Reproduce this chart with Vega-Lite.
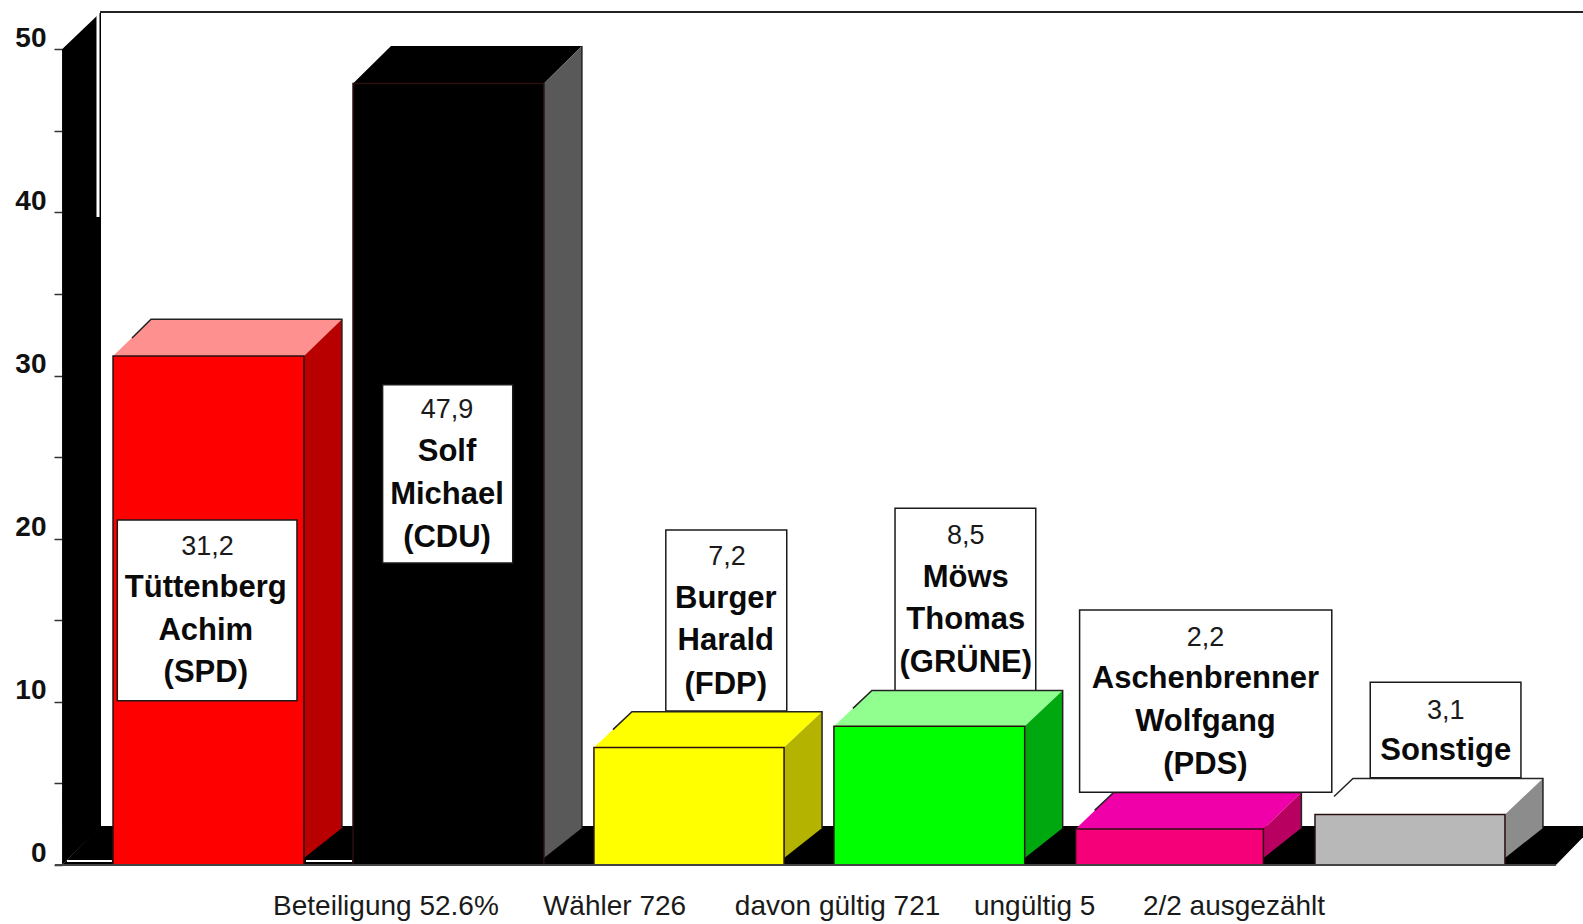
{"$schema":"https://vega.github.io/schema/vega-lite/v6.json","width":1583,"height":924,"autosize":"none","padding":0,"background":"white","config":{"view":{"stroke":null}},
"datasets":{
"wand":[{"x":3.92,"y":50,"y2":0},{"x":6.38,"y":52.29,"y2":2.39}],
"boden":[{"y":0,"x":3.92,"x2":98.29},{"y":2.39,"x":6.32,"x2":100.7}],
"dach":[
{"part":"SPD Dach","y":31.2,"x":7.14,"x2":19.2},{"part":"SPD Dach","y":33.45,"x":9.54,"x2":21.6},
{"part":"CDU Dach","y":47.9,"x":22.3,"x2":34.36},{"part":"CDU Dach","y":50.2,"x":24.7,"x2":36.76},
{"part":"FDP Dach","y":7.2,"x":37.52,"x2":49.53},{"part":"FDP Dach","y":9.4,"x":39.92,"x2":51.93},
{"part":"GRÜNE Dach","y":8.5,"x":52.68,"x2":64.73},{"part":"GRÜNE Dach","y":10.7,"x":55.08,"x2":67.13},
{"part":"PDS Dach","y":2.2,"x":67.95,"x2":79.81},{"part":"PDS Dach","y":4.45,"x":70.35,"x2":82.21},
{"part":"Sonstige Dach","y":3.1,"x":83.07,"x2":95.07},{"part":"Sonstige Dach","y":5.3,"x":85.47,"x2":97.47}],
"seite":[
{"part":"SPD Seite","x":19.2,"y":31.2,"y2":0.43},{"part":"SPD Seite","x":21.6,"y":33.45,"y2":2.27},
{"part":"CDU Seite","x":34.36,"y":47.9,"y2":0.43},{"part":"CDU Seite","x":36.76,"y":50.2,"y2":2.27},
{"part":"FDP Seite","x":49.53,"y":7.2,"y2":0.43},{"part":"FDP Seite","x":51.93,"y":9.4,"y2":2.27},
{"part":"GRÜNE Seite","x":64.73,"y":8.5,"y2":0.43},{"part":"GRÜNE Seite","x":67.13,"y":10.7,"y2":2.27},
{"part":"PDS Seite","x":79.81,"y":2.2,"y2":0.43},{"part":"PDS Seite","x":82.21,"y":4.45,"y2":2.27},
{"part":"Sonstige Seite","x":95.07,"y":3.1,"y2":0.43},{"part":"Sonstige Seite","x":97.47,"y":5.3,"y2":2.27}],
"front":[
{"part":"SPD Front","x":7.14,"x2":19.2,"y":31.2,"y2":0},
{"part":"CDU Front","x":22.3,"x2":34.36,"y":47.9,"y2":0},
{"part":"FDP Front","x":37.52,"x2":49.53,"y":7.2,"y2":0},
{"part":"GRÜNE Front","x":52.68,"x2":64.73,"y":8.5,"y2":0},
{"part":"PDS Front","x":67.95,"x2":79.81,"y":2.2,"y2":0},
{"part":"Sonstige Front","x":83.07,"x2":95.07,"y":3.1,"y2":0}],
"kanten":[
{"k":"SPD","o":1,"x":8.34,"y":32.3},{"k":"SPD","o":2,"x":9.54,"y":33.45},{"k":"SPD","o":3,"x":21.6,"y":33.45},{"k":"SPD","o":4,"x":21.6,"y":2.27},
{"k":"CDU","o":1,"x":36.76,"y":50.2},{"k":"CDU","o":2,"x":36.76,"y":2.27},
{"k":"FDP","o":1,"x":38.72,"y":8.3},{"k":"FDP","o":2,"x":39.92,"y":9.4},{"k":"FDP","o":3,"x":51.93,"y":9.4},{"k":"FDP","o":4,"x":51.93,"y":2.27},
{"k":"GRÜNE","o":1,"x":53.88,"y":9.6},{"k":"GRÜNE","o":2,"x":55.08,"y":10.7},{"k":"GRÜNE","o":3,"x":67.13,"y":10.7},{"k":"GRÜNE","o":4,"x":67.13,"y":2.27},
{"k":"PDS","o":1,"x":69.15,"y":3.35},{"k":"PDS","o":2,"x":70.35,"y":4.45},{"k":"PDS","o":3,"x":82.21,"y":4.45},{"k":"PDS","o":4,"x":82.21,"y":2.27},
{"k":"Sonstige","o":1,"x":84.27,"y":4.2},{"k":"Sonstige","o":2,"x":85.47,"y":5.3},{"k":"Sonstige","o":3,"x":97.47,"y":5.3},{"k":"Sonstige","o":4,"x":97.47,"y":2.27}],
"boxen":[
{"k":"SPD","x":7.41,"x2":18.76,"y":21.15,"y2":10.07},
{"k":"CDU","x":24.17,"x2":32.39,"y":29.44,"y2":18.51},
{"k":"FDP","x":42.06,"x2":49.7,"y":20.53,"y2":9.44},
{"k":"GRÜNE","x":56.54,"x2":65.43,"y":21.86,"y2":10.68},
{"k":"PDS","x":68.2,"x2":84.13,"y":15.63,"y2":4.46},
{"k":"Sonstige","x":86.56,"x2":96.08,"y":11.2,"y2":5.35}],
"namen":[
{"t":"Tüttenberg","x":13.0,"y":16.96},{"t":"Achim","x":13.0,"y":14.36},{"t":"(SPD)","x":13.0,"y":11.75},
{"t":"Solf","x":28.24,"y":25.3},{"t":"Michael","x":28.24,"y":22.7},{"t":"(CDU)","x":28.24,"y":20.05},
{"t":"Burger","x":45.85,"y":16.3},{"t":"Harald","x":45.85,"y":13.7},{"t":"(FDP)","x":45.85,"y":11.05},
{"t":"Möws","x":61.01,"y":17.6},{"t":"Thomas","x":61.01,"y":15.0},{"t":"(GRÜNE)","x":61.01,"y":12.36},
{"t":"Aschenbrenner","x":76.15,"y":11.4},{"t":"Wolfgang","x":76.15,"y":8.74},{"t":"(PDS)","x":76.15,"y":6.1},
{"t":"Sonstige","x":91.33,"y":7.0}],
"werte":[
{"t":"31,2","x":13.11,"y":19.51},{"t":"47,9","x":28.24,"y":27.89},{"t":"7,2","x":45.93,"y":18.86},{"t":"8,5","x":61.01,"y":20.17},{"t":"2,2","x":76.15,"y":13.9},{"t":"3,1","x":91.33,"y":9.46}],
"fuss":[
{"t":"Beteiligung 52.6%","x":24.38,"y":-2.58},{"t":"Wähler 726","x":38.82,"y":-2.58},{"t":"davon gültig 721","x":52.91,"y":-2.58},{"t":"ungültig 5","x":65.36,"y":-2.58},{"t":"2/2 ausgezählt","x":77.95,"y":-2.58}]
},
"encoding":{
"x":{"field":"x","type":"quantitative","stack":null,"scale":{"domain":[0,100],"nice":false,"zero":false},"axis":null},
"y":{"field":"y","type":"quantitative","stack":null,"scale":{"domain":[-3.617,53.02],"nice":false,"zero":false},"axis":{"title":null,"orient":"left","offset":-62,"values":[0,5,10,15,20,25,30,35,40,45,50],"labelExpr":"datum.value%10==0?datum.label:''","domain":false,"grid":false,"tickSize":8,"tickWidth":1.5,"tickColor":"#333333","labelPadding":8,"labelOffset":-11,"labelFont":"Liberation Sans","labelFontWeight":"bold","labelFontSize":28,"labelColor":"#111111","zindex":0}}
},
"layer":[
{"data":{"name":"wand"},"mark":{"type":"area","color":"black"},"encoding":{"y2":{"field":"y2"}}},
{"data":{"name":"boden"},"mark":{"type":"area","color":"black","orient":"horizontal","clip":true},"encoding":{"x2":{"field":"x2"}}},
{"data":{"values":[{"x":6.19,"y":52.2,"y2":39.72}]},"mark":{"type":"rule","color":"white","strokeWidth":3},"encoding":{"y2":{"field":"y2"}}},
{"data":{"values":[{"x":6.32,"x2":100,"y":52.29}]},"mark":{"type":"rule","color":"#222222","strokeWidth":2},"encoding":{"x2":{"field":"x2"}}},
{"data":{"name":"boxen"},"transform":[{"filter":"datum.k=='FDP'||datum.k=='GRÜNE'||datum.k=='Sonstige'"}],"mark":{"type":"rect","fill":"white","stroke":"#1a1a1a","strokeWidth":1.5},"encoding":{"x2":{"field":"x2"},"y2":{"field":"y2"}}},
{"encoding":{"color":{"field":"part","type":"nominal","legend":null,"scale":{
"domain":["SPD Front","SPD Dach","SPD Seite","CDU Front","CDU Dach","CDU Seite","FDP Front","FDP Dach","FDP Seite","GRÜNE Front","GRÜNE Dach","GRÜNE Seite","PDS Front","PDS Dach","PDS Seite","Sonstige Front","Sonstige Dach","Sonstige Seite"],
"range":["#ff0000","#ff9090","#b80000","#000000","#000000","#595959","#ffff00","#ffff00","#b4b400","#00ff00","#90ff90","#00a810","#f50078","#f000a8","#b80060","#b8b8b8","#ffffff","#8c8c8c"]}}},
"layer":[
{"data":{"name":"dach"},"mark":{"type":"area","orient":"horizontal"},"encoding":{"x2":{"field":"x2"}}},
{"data":{"name":"seite"},"mark":{"type":"area","orient":"vertical"},"encoding":{"y2":{"field":"y2"}}},
{"data":{"name":"front"},"mark":{"type":"rect","stroke":"#2a1010","strokeWidth":1.5},"encoding":{"x2":{"field":"x2"},"y2":{"field":"y2"}}}
]},
{"data":{"name":"kanten"},"mark":{"type":"line","color":"#222222","strokeWidth":1.5},"encoding":{"detail":{"field":"k"},"order":{"field":"o","type":"ordinal"}}},
{"data":{"values":[{"x":3.47,"x2":98.29,"y":0}]},"mark":{"type":"rule","color":"#444444","strokeWidth":2},"encoding":{"x2":{"field":"x2"}}},
{"data":{"values":[{"x":4.23,"x2":7.07,"y":0.245},{"x":19.33,"x2":22.24,"y":0.245}]},"mark":{"type":"rule","color":"white","strokeWidth":2},"encoding":{"x2":{"field":"x2"}}},
{"data":{"name":"boxen"},"transform":[{"filter":"datum.k=='SPD'||datum.k=='CDU'||datum.k=='PDS'"}],"mark":{"type":"rect","fill":"white","stroke":"#1a1a1a","strokeWidth":1.5},"encoding":{"x2":{"field":"x2"},"y2":{"field":"y2"}}},
{"data":{"name":"namen"},"mark":{"type":"text","font":"Liberation Sans","fontWeight":"bold","fontSize":31,"baseline":"middle","align":"center","color":"#0a0a0a"},"encoding":{"text":{"field":"t"}}},
{"data":{"name":"werte"},"mark":{"type":"text","font":"Liberation Sans","fontSize":27,"baseline":"middle","align":"center","color":"#1a1a1a"},"encoding":{"text":{"field":"t"}}},
{"data":{"name":"fuss"},"mark":{"type":"text","font":"Liberation Sans","fontSize":28,"baseline":"middle","align":"center","color":"#1a1a1a"},"encoding":{"text":{"field":"t"}}}
]}
